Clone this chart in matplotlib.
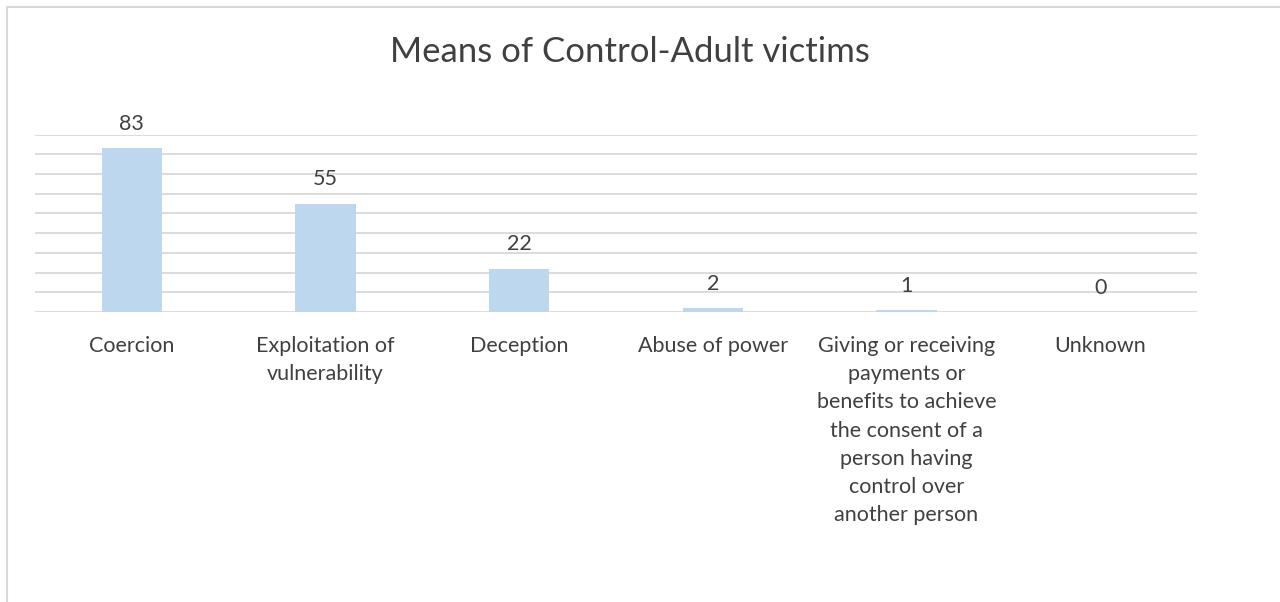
import numpy as np
import matplotlib.pyplot as plt
import matplotlib.patches as mpatches
from matplotlib.font_manager import FontProperties

plt.rcParams['font.family'] = ['Lato', 'DejaVu Sans']

categories = ['Coercion', 'Exploitation of\nvulnerability', 'Deception', 'Abuse of power',
              'Giving or receiving\npayments or\nbenefits to achieve\nthe consent of a\nperson having\ncontrol over\nanother person',
              'Unknown']
values = [83, 55, 22, 2, 1, 0]

text_color = '#404040'
label_size = 15.5

fig = plt.figure(figsize=(12.8, 6.02), dpi=100)
ax = fig.add_axes([35 / 1280, 1 - 312 / 602, (1197 - 35) / 1280, (312 - 134.7) / 602])

# measure "lp" so the label line pitch (~28 px) and gap below the axis match the original
renderer = fig.canvas.get_renderer()
_, lp_h, lp_d = renderer.get_text_width_height_descent(
    'lp', FontProperties(family=['Lato', 'DejaVu Sans'], size=label_size), ismath=False)
lp_asc = lp_h - lp_d
line_sp = (28.2 - lp_d) / lp_asc   # matplotlib pitch = asc * linespacing + descent
label_pad = (40 - lp_asc) * 72 / 100

x = np.arange(len(categories))
ax.bar(x, values, width=0.31, color='#bdd7ee', zorder=3)

for xi, v in zip(x, values):
    ax.annotate(str(v), (xi, v), xytext=(0, 13.2), textcoords='offset points',
                ha='center', va='baseline', fontsize=label_size, color=text_color)

ax.set_xlim(-0.5, len(categories) - 0.5)
ax.set_ylim(0, 90)
ax.set_yticks(np.arange(0, 91, 10))
ax.yaxis.grid(True, color='#d9d9d9', lw=1.3, zorder=0)
ax.tick_params(axis='y', left=False, labelleft=False)
ax.set_xticks(x)
ax.set_xticklabels(categories, fontsize=label_size, color=text_color, linespacing=line_sp)
ax.tick_params(axis='x', length=0, pad=label_pad)
for s in ax.spines.values():
    s.set_visible(False)

fig.text(630 / 1280, 1 - 62 / 602, 'Means of Control-Adult victims', ha='center', va='baseline',
         fontsize=25, color=text_color)

# outer chart border
fig.patches.append(mpatches.Rectangle((6.5 / 1280, -0.1), 1.2, 1 - 6.5 / 602 + 0.1,
                                      transform=fig.transFigure, fill=False,
                                      edgecolor='#d9d9d9', lw=1.5))

fig.savefig('out.png', dpi=100)
